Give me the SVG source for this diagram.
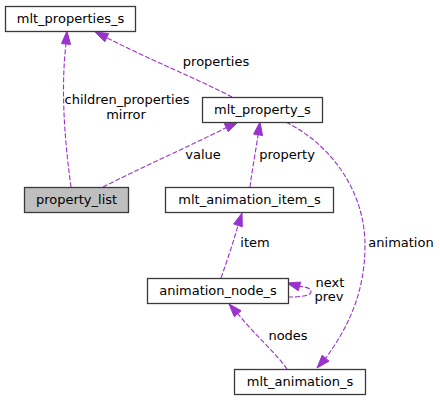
<svg xmlns="http://www.w3.org/2000/svg" width="440" height="400" viewBox="0 0 440 400">
<style>
.box{fill:#ffffff;stroke:#3a3a3a;stroke-width:1.3}
.cur{fill:#bfbfbf;stroke:#3a3a3a;stroke-width:1.3}
.t{font-family:"DejaVu Sans",sans-serif;font-size:13px;fill:#000000;text-anchor:middle}
.e{fill:none;stroke:#9a32cd;stroke-width:1.1;stroke-dasharray:5,2}
.h{fill:#9a32cd;stroke:#9a32cd;stroke-width:1}
</style>
<rect width="440" height="400" fill="#ffffff"/>
<g id="connectors">
<path class="e" d="M71,187 C66,150 60,95 66,44"/>
<polygon class="h" points="67,31 70.5,44.4 61.5,43.6"/>
<text class="t" x="127" y="104">children_properties</text>
<text class="t" x="126" y="119">mirror</text>
<path class="e" d="M232,97 C200,80 150,60 106.7,37.6"/>
<polygon class="h" points="95,32 108.6,33.5 104.8,41.7"/>
<text class="t" x="216" y="66">properties</text>
<path class="e" d="M103,187 C140,168 190,146 226.3,127.6"/>
<polygon class="h" points="238,122 228.2,131.6 224.3,123.5"/>
<text class="t" x="203" y="159">value</text>
<path class="e" d="M250,187 C252,170 256,150 258,134.8"/>
<polygon class="h" points="260,122 262.5,135.5 253.6,134.1"/>
<text class="t" x="287" y="159">property</text>
<path class="e" d="M286,122 C340,150 365,200 365,245 C365,290 350,325 325.6,358.2"/>
<polygon class="h" points="317,368 322.2,355.2 329,361.2"/>
<text class="t" x="401" y="247">animation</text>
<path class="e" d="M221,278 C228,258 234,240 238,225.4"/>
<polygon class="h" points="242,213 242.3,226.8 233.7,224"/>
<text class="t" x="255" y="247">item</text>
<path class="e" d="M288,297 C300,297 311,296 311,292 C311,288 306,287 299.5,286.4"/>
<polygon class="h" points="287,283 300.7,282.1 298.3,290.7"/>
<text class="t" x="330" y="287">next</text>
<text class="t" x="329" y="301">prev</text>
<path class="e" d="M287,369 C275,352 255,335 237.7,313.7"/>
<polygon class="h" points="229,304 241.1,310.7 234.3,316.7"/>
<text class="t" x="288" y="340">nodes</text>
</g>
<g id="mlt_properties_s">
<rect class="box" x="5.5" y="6.5" width="130" height="25"/>
<text class="t" x="70.5" y="23">mlt_properties_s</text>
</g>
<g id="property_list">
<rect class="cur" x="24.5" y="187.5" width="104" height="25"/>
<text class="t" x="76.5" y="204">property_list</text>
</g>
<g id="mlt_property_s">
<rect class="box" x="202.5" y="97.5" width="120" height="25"/>
<text class="t" x="262.5" y="114">mlt_property_s</text>
</g>
<g id="mlt_animation_item_s">
<rect class="box" x="165.5" y="187.5" width="168" height="25"/>
<text class="t" x="249.5" y="204">mlt_animation_item_s</text>
</g>
<g id="animation_node_s">
<rect class="box" x="147.5" y="278.5" width="141" height="25"/>
<text class="t" x="218" y="295">animation_node_s</text>
</g>
<g id="mlt_animation_s">
<rect class="box" x="234.5" y="369.5" width="131" height="25"/>
<text class="t" x="300" y="386">mlt_animation_s</text>
</g>
</svg>
